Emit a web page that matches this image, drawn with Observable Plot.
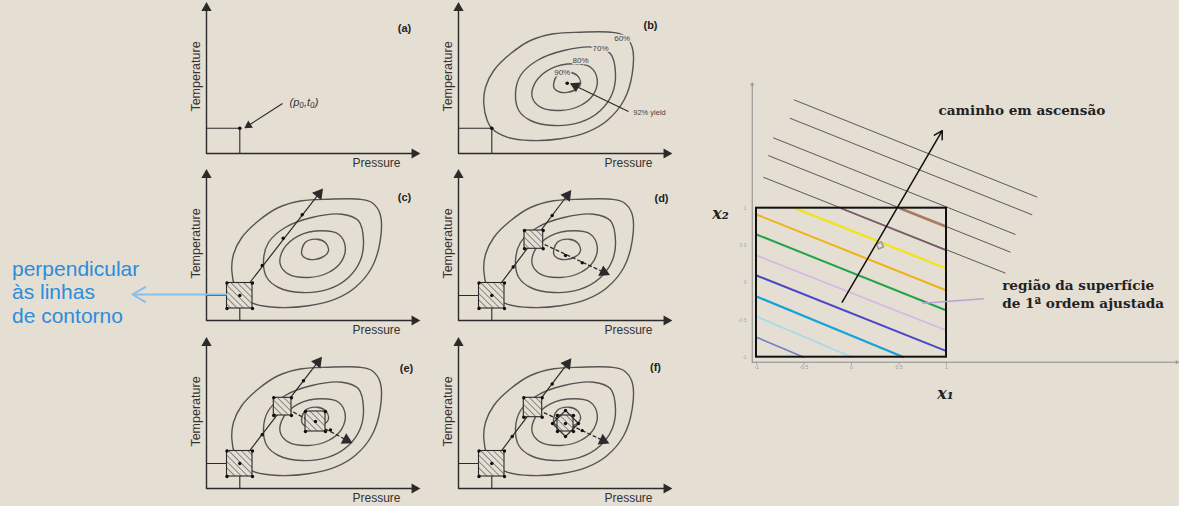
<!DOCTYPE html>
<html><head><meta charset="utf-8">
<script src="https://cdn.jsdelivr.net/npm/d3@7"></script>
<script src="https://cdn.jsdelivr.net/npm/@observablehq/plot@0.6"></script>
<style>
html,body{margin:0;padding:0;background:#e4ded3;}
#root{position:relative;width:1179px;height:506px;overflow:hidden;background:#e4ded3;}
#root > div.p{position:absolute;line-height:0;}
#root svg{overflow:visible;}
</style></head><body>
<svg width="0" height="0" style="position:absolute"><defs>
<pattern id="hatch" patternUnits="userSpaceOnUse" width="4.5" height="4.5" patternTransform="rotate(-45)"><rect width="4.5" height="4.5" fill="#e4ded3"/><line x1="0" y1="0" x2="0" y2="4.5" stroke="#333" stroke-width="1"/></pattern>
</defs></svg>
<div id="root"></div>
<script>
// ---------- data: panels (a)-(f), local units: pressure p, temperature t ----------
const contour60 = [[33.7,24.7],[48.7,16.3],[72,13],[102,14.7],[128.7,21.3],[148.7,33],[165.3,53],[173.7,79.7],[173.7,106.3],[165.3,118],[152,121.3],[122,121.3],[95.3,119.7],[72,113],[52,99.7],[35.3,83],[27,66.3],[25.3,49.7],[28.7,33]];
const contour70 = [[135.3,106.3],[105.3,103],[78.7,93],[62,78],[57,59.7],[60.3,43],[72,33],[95.3,28],[122,31.3],[142,43],[153.7,59.7],[157,79.7],[152,99.7]];
const contour80 = [[115.3,89.7],[92,84.7],[77,71.3],[73.7,56.3],[82,46.3],[102,43],[122,48],[135.3,59.7],[138.7,74.3],[132,86.3]];
const contour90 = [[98.7,78],[95.3,66.3],[102,61.3],[115.3,63],[122,69.7],[118.7,78],[110.3,81.3]];
const contourLevels = ["60%","70%","80%","90%"];
const contourLabelPos = [[163.7,114.7],[142,104.7],[122,93],[103.7,81.3]];
const basePoint = [33.3, 25.3];
const optimum = [108.7, 70.3];
const yieldText = {p:191, t:41, s:"92% yield"};
const yieldArrow = {x1:170, y1:42, x2:117, y2:67.5};
const startText = {p:97.5, t:51.3, s:"(p\u2080,t\u2080)"};
const startArrow = {x1:76, y1:50, x2:42, y2:28};
const panelLetterPos = {a:[198,125], b:[192,128], c:[198,123], d:[203,122], e:[200,120], f:[197,121]};
const panelOrigins = {a:[206,153], b:[458,153], c:[206,320], d:[458,320], e:[206,488], f:[458,488]};

const bigBox = {x1:20.5, x2:46, y1:12, y2:37.5};
const bigBoxPts = [[20.5,12],[46,12],[20.5,37.5],[46,37.5],[33.3,25]];
const panelC = {
  boxes:[bigBox],
  solid:[{x1:33.3,y1:25,x2:112.3,y2:126.7}],
  dashed:[],
  pts:[...bigBoxPts,[55.7,55],[76.7,82.3],[95.7,105.7]],
  diamonds:[]
};
const panelD = {
  boxes:[bigBox,{x1:66,x2:84.7,y1:71.7,y2:90}],
  solid:[{x1:33.3,y1:25,x2:108.7,y2:125}],
  dashed:[{x1:75.3,y1:81,x2:145.3,y2:48.3}],
  pts:[...bigBoxPts,[54.7,53.5],[93.7,105],[66,71.7],[84.7,71.7],[66,90],[84.7,90],[107,65],[123.7,57.7]],
  diamonds:[]
};
const panelE = {
  boxes:[bigBox,{x1:67.3,x2:85,y1:73,y2:90.7},{x1:99,x2:119,y1:57,y2:77}],
  solid:[{x1:33.3,y1:25,x2:111.3,y2:126.3}],
  dashed:[{x1:76.2,y1:81.9,x2:140,y2:48.5}],
  pts:[...bigBoxPts,[55.7,53.8],[97,107.7],[67.3,73],[85,73],[67.3,90.7],[85,90.7],[99,57],[119,57],[99,77],[119,77],[109,67],[124,58.5]],
  diamonds:[]
};
const panelF = {
  boxes:[bigBox,{x1:65.3,x2:83.7,y1:71.3,y2:90.7},{x1:99,x2:115,y1:57,y2:73}],
  solid:[{x1:33.3,y1:25,x2:108.7,y2:124.7}],
  dashed:[{x1:74.5,y1:81,x2:144.7,y2:48}],
  pts:[...bigBoxPts,[53.7,52],[93.7,104.5],[65.3,71.3],[83.7,71.3],[65.3,90.7],[83.7,90.7],[99,57],[115,57],[99,73],[115,73],[107,52],[120,65],[107,78],[94,65],[107,65],[123.7,57.9]],
  diamonds:[[[107,52],[120,65],[107,78],[94,65]]]
};
const blueNote = ["perpendicular","\u00e0s linhas","de contorno"];
const blueNoteT = [51, 28, 4];

// ---------- data: right diagram (coded units x1, x2) ----------
const grayLevels = [
  [-0.607,2.455,1.955,1.148],
  [-0.649,2.208,1.902,0.911],
  [-0.824,1.945,1.726,0.647],
  [-0.877,1.707,1.674,0.409],
  [-0.929,1.416,1.621,0.128]
];
const fittedLevels = [
  {c:"#7d5a6c", w:1.6, a:[-0.113,1], b:[1,0.432]},
  {c:"#a97a62", w:2.8, a:[0.509,1], b:[1,0.75]},
  {c:"#f2e41c", w:2.3, a:[-0.597,1], b:[1,0.19]},
  {c:"#f0b21a", w:2, a:[-1,0.915], b:[1,-0.105]},
  {c:"#22a34a", w:2, a:[-1,0.647], b:[1,-0.373]},
  {c:"#d8b6e4", w:1.6, a:[-1,0.365], b:[1,-0.642]},
  {c:"#4747c8", w:2, a:[-1,0.097], b:[1,-0.919]},
  {c:"#17a2dc", w:2.2, a:[-1,-0.185], b:[0.551,-1]},
  {c:"#a4dbe9", w:1.6, a:[-1,-0.454], b:[0.007,-1]},
  {c:"#7480c4", w:1.6, a:[-1,-0.732], b:[-0.502,-1]}
];
const ascentPath = {x1:-0.098, y1:-0.262, x2:0.955, y2:2.04};
const tickValues = [-1,-0.5,0,0.5,1];
const tickLabels = ["-1","-0.5","0","0.5","1"];
const pointer = {x1:0.744, y1:-0.275, x2:1.393, y2:-0.216};
const rightTexts = [
  {x:0.916, y:2.31, s:"caminho em ascens\u00e3o"},
  {x:1.586, y:-0.04, s:"regi\u00e3o da superf\u00edcie"},
  {x:1.586, y:-0.275, s:"de 1\u00aa ordem ajustada"}
];

// ---------- rendering ----------
const BG = "#e4ded3", INK = "#2b2b2b", CONT = "#555555";
const SANS = '"Liberation Sans", Arial, sans-serif';
const SERIF = '"DejaVu Serif", "Liberation Serif", serif';
const root = document.getElementById("root");
const contourTable = [contour60,contour70,contour80,contour90].flatMap((pts,i)=>pts.map(([p,t])=>({level:contourLevels[i],p,t})));
const rot = d => Math.atan2(d.x2-d.x1, d.y2-d.y1)*180/Math.PI;

function place(svg, left, top){
  const div = document.createElement("div");
  div.className = "p"; div.style.left = left+"px"; div.style.top = top+"px";
  div.appendChild(svg); root.appendChild(div);
}

function panel(key, extra, xmin = -30){
  const [ox, oy] = panelOrigins[key];
  const xmax = 222, width = xmax - xmin;
  const marks = [
    Plot.line([[0,146],[0,0],[208,0]], {stroke:INK, strokeWidth:1.4}),
    Plot.dot([{p:0,t:145.5,r:0},{p:208,t:0,r:90}], {x:"p",y:"t",rotate:"r",symbol:"triangle",r:3.8,fill:INK,stroke:"none"}),
    Plot.text([{p:-11,t:77,s:"Temperature"}], {x:"p",y:"t",text:"s",rotate:-90,fontSize:12.5,fill:"#333",fontFamily:SANS}),
    Plot.text([{p:170,t:-9.5,s:"Pressure"}], {x:"p",y:"t",text:"s",fontSize:12,fill:"#333",fontFamily:SANS}),
    Plot.text([{p:panelLetterPos[key][0],t:panelLetterPos[key][1],s:`(${key})`}], {x:"p",y:"t",text:"s",fontSize:11,fontWeight:"bold",fill:"#222",fontFamily:SANS}),
    ...extra
  ];
  const svg = Plot.plot({
    width, height:165, margin:0,
    x:{domain:[xmin,xmax], range:[0,width], axis:null},
    y:{domain:[-12,153], range:[165,0], axis:null},
    style:{background:"transparent", overflow:"visible"},
    marks
  });
  place(svg, ox + xmin, oy - 153);
}

const contourMark = () => Plot.line(contourTable, {x:"p", y:"t", z:"level", curve:"catmull-rom-closed", stroke:CONT, strokeWidth:1.4});
const baseLines = (pt) => Plot.line([[0,pt[1]],[pt[0],pt[1]],[pt[0],0]], {stroke:INK, strokeWidth:1.1});
const filledArrow = (arr, w=1.1, r=3.6) => [
  Plot.link(arr, {x1:"x1",y1:"y1",x2:"x2",y2:"y2",stroke:INK,strokeWidth:w}),
  Plot.dot(arr, {x:"x2",y:"y2",rotate:rot,symbol:"triangle",r,fill:INK,stroke:"none"})
];

function stepMarks(d){
  return [
    contourMark(),
    baseLines([33.3,25]),
    Plot.link(d.solid, {x1:"x1",y1:"y1",x2:"x2",y2:"y2",stroke:INK,strokeWidth:1.2}),
    Plot.link(d.dashed, {x1:"x1",y1:"y1",x2:"x2",y2:"y2",stroke:INK,strokeWidth:1.3,strokeDasharray:"4,2"}),
    Plot.rect(d.boxes, {x1:"x1",x2:"x2",y1:"y1",y2:"y2",fill:"url(#hatch)",stroke:INK,strokeWidth:1.1}),
    ...d.diamonds.map(poly => Plot.line(poly, {curve:"linear-closed", stroke:INK, strokeWidth:1.1})),
    Plot.dot([...d.solid,...d.dashed], {x:"x2",y:"y2",rotate:rot,symbol:"triangle",r:4.4,fill:INK,stroke:"none"}),
    Plot.dot(d.pts, {r:1.7, fill:"#111"})
  ];
}

// (a)
panel("a", [
  baseLines(basePoint),
  Plot.dot([basePoint], {r:1.8, fill:"#111"}),
  ...filledArrow([startArrow], 1.1, 3.2),
  Plot.text([startText], {x:"p",y:"t",text:"s",fontSize:11,fontStyle:"italic",fill:"#333",fontFamily:SANS})
]);
// (b)
panel("b", [
  contourMark(),
  baseLines(basePoint),
  Plot.dot([basePoint], {r:1.8, fill:"#111"}),
  Plot.text(contourLevels.map((s,i)=>({s,p:contourLabelPos[i][0],t:contourLabelPos[i][1]})), {x:"p",y:"t",text:"s",fontSize:8,fill:"#444",stroke:BG,strokeWidth:3,fontFamily:SANS}),
  Plot.dot([optimum], {r:1.8, fill:"#111"}),
  ...filledArrow([yieldArrow], 1.1, 4),
  Plot.text([yieldText], {x:"p",y:"t",text:"s",fontSize:7.5,fill:"#444",fontFamily:SANS})
]);
// (c) with blue note to the left
panel("c", [
  ...stepMarks(panelC),
  Plot.arrow([{x1:20,y1:26,x2:-74,y2:26}], {x1:"x1",y1:"y1",x2:"x2",y2:"y2",stroke:"#86bfe8",strokeWidth:2,headLength:11}),
  Plot.text(blueNote.map((s,i)=>({s,t:blueNoteT[i]})), {x:-194.5,y:"t",text:"s",textAnchor:"start",fontSize:21,fill:"#2b8ddc",fontFamily:SANS})
], -206);
panel("d", stepMarks(panelD));
panel("e", stepMarks(panelE));
panel("f", stepMarks(panelF));

// right diagram
{
  const ax0 = -1.045, ay0 = -1.067;
  const svg = Plot.plot({
    width:479, height:340, margin:0,
    x:{domain:[-1.5895,3.4526], range:[0,479], axis:null},
    y:{domain:[-1.7154,2.848], range:[340,0], axis:null},
    style:{background:"transparent", overflow:"visible"},
    marks:[
      Plot.arrow([{x1:ax0,y1:ay0,x2:3.44,y2:ay0},{x1:ax0,y1:ay0,x2:ax0,y2:2.68}], {x1:"x1",y1:"y1",x2:"x2",y2:"y2",stroke:"#8c8c8c",strokeWidth:1,headLength:4}),
      Plot.link(tickValues, {x1:d=>d,x2:d=>d,y1:ay0,y2:ay0-0.03,stroke:"#999"}),
      Plot.text(tickValues, {x:d=>d,y:ay0-0.07,text:(d,i)=>tickLabels[i],fontSize:5,fill:"#999",fontFamily:SANS}),
      Plot.text(tickValues, {x:ax0-0.06,y:d=>d,text:(d,i)=>tickLabels[i],fontSize:5,fill:"#aaa",textAnchor:"end",fontFamily:SANS}),
      Plot.link(grayLevels, {x1:d=>d[0],y1:d=>d[1],x2:d=>d[2],y2:d=>d[3],stroke:"#5a5a5a",strokeWidth:1}),
      ...fittedLevels.map(L => Plot.link([L], {x1:d=>d.a[0],y1:d=>d.a[1],x2:d=>d.b[0],y2:d=>d.b[1],stroke:L.c,strokeWidth:L.w})),
      Plot.rect([{}], {x1:-1,x2:1,y1:-1,y2:1,fill:"none",stroke:"#111",strokeWidth:2}),
      Plot.link([pointer], {x1:"x1",y1:"y1",x2:"x2",y2:"y2",stroke:"#b3a6d6",strokeWidth:1.5}),
      Plot.dot([{x:0.30,y:0.50}], {x:"x",y:"y",symbol:"square",r:3,stroke:"#999",fill:"none",rotate:-22}),
      Plot.arrow([ascentPath], {x1:"x1",y1:"y1",x2:"x2",y2:"y2",stroke:"#111",strokeWidth:1.5,headLength:9}),
      Plot.text(rightTexts, {x:"x",y:"y",text:"s",textAnchor:"start",fontSize:13.6,fontWeight:"bold",fill:"#222",fontFamily:SERIF}),
      Plot.text([{x:-1.379,y:0.929,s:"x\u2082"},{x:0.99,y:-1.487,s:"x\u2081"}], {x:"x",y:"y",text:"s",fontSize:16,fontStyle:"italic",fontWeight:"bold",fill:"#222",fontFamily:SERIF})
    ]
  });
  place(svg, 700, 70);
}
</script>
</body></html>
